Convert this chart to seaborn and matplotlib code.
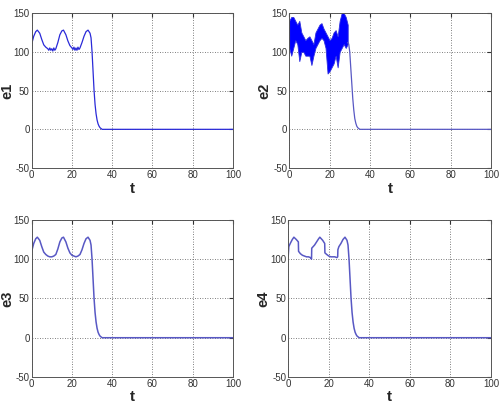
import numpy as np
import pandas as pd
import seaborn as sns
import matplotlib.pyplot as plt

# values
t1 = [0, 1, 2, 2.8, 4, 5, 6, 7, 8, 8.5, 9, 9.5, 10, 10.5, 11, 11.5, 12, 13, 14, 15, 15.8, 17, 18, 19,
      20, 20.5, 21, 21.5, 22, 22.5, 23, 23.5, 24, 25, 26, 27, 28, 29, 29.5, 30, 30.5, 31, 31.5, 32,
      32.5, 33, 33.5, 34, 35, 100]
e1 = [110, 120, 126, 128, 124, 116, 109, 106, 104, 102, 105, 102, 104, 101, 105, 102, 104, 112, 122, 127, 128, 122, 114, 108,
      105, 103, 106, 102, 105, 102, 106, 103, 105, 112, 120, 126, 128, 124, 118, 100, 75, 50, 32, 20,
      12, 7, 4, 2, 0, 0]

t3 = [0, 1, 2, 2.8, 4, 5, 6, 7, 8, 9, 10, 11, 12, 13, 14, 15, 15.8, 17, 18, 19, 20, 21, 22, 23, 24,
      25, 26, 27, 28, 29, 29.5, 30, 30.5, 31, 31.5, 32, 32.5, 33, 33.5, 34, 35, 100]
e3 = [110, 120, 126, 128, 124, 116, 109, 106, 104, 103, 103, 104, 106, 113, 122, 127, 128, 122, 114, 108, 105, 104, 103, 104, 106,
      112, 120, 126, 128, 124, 118, 100, 75, 50, 32, 20, 12, 7, 4, 2, 0, 0]

t4 = [0, 0.3, 1, 2, 2.8, 4, 5, 5.1, 6, 7, 8, 9, 10, 11, 11.5, 11.6, 13, 14, 15, 15.6, 17, 18, 18.1,
      19, 20, 21, 22, 23, 24, 24.4, 24.5, 25, 26, 27, 28, 29, 29.5, 30, 30.5, 31, 31.5, 32, 32.5, 33,
      33.5, 34, 35, 100]
e4 = [104, 116, 120, 125, 128, 125, 122, 110, 107, 105, 104, 103, 103, 102, 100, 114, 118, 122, 126, 128, 124, 120, 108,
      106, 104, 103, 103, 103, 102, 103, 112, 116, 120, 125, 128, 124, 118, 100, 75, 50, 32, 20, 12, 7,
      4, 2, 0, 0]

# e2 is a dense oscillation: upper and lower envelope up to t=29
t2_band = list(range(0, 30))
e2_hi = [140, 145, 145, 140, 135, 140, 125, 120, 115, 118, 120, 115, 110, 125, 130, 135, 137, 130, 125, 120,
         115, 118, 125, 128, 120, 140, 150, 150, 145, 135]
e2_lo = [105, 95, 105, 115, 110, 88, 100, 100, 95, 95, 95, 83, 95, 105, 110, 115, 118, 115, 105, 72,
         75, 80, 85, 95, 80, 100, 105, 110, 105, 110]
t2_tail = [29, 29.5, 30, 30.5, 31, 31.5, 32, 32.5, 33, 33.5, 34, 35, 100]
e2_tail = [112, 110, 100, 80, 60, 40, 25, 14, 8, 4, 2, 0, 0]

line_color = "#2a2ad8"
soft_color = "#5858c4"

sns.set_style("white")
plt.rcParams["font.family"] = ["Liberation Sans", "DejaVu Sans"]
plt.rcParams["axes.unicode_minus"] = False

fig = plt.figure(figsize=(5.03, 4.08), dpi=100)
boxes = [
    [0.063, 0.588, 0.400, 0.380],
    [0.575, 0.588, 0.401, 0.380],
    [0.063, 0.076, 0.400, 0.385],
    [0.573, 0.076, 0.403, 0.385],
]
axes = [fig.add_axes(b) for b in boxes]

sns.lineplot(x=t1, y=e1, ax=axes[0], color=line_color, linewidth=0.9)

axes[1].fill_between(t2_band, e2_lo, e2_hi, color="#0000ff", linewidth=0.6, edgecolor="#3030e0")
sns.lineplot(x=t2_tail, y=e2_tail, ax=axes[1], color=soft_color, linewidth=0.9)

sns.lineplot(x=t3, y=e3, ax=axes[2], color=soft_color, linewidth=1.1)
sns.lineplot(x=t4, y=e4, ax=axes[3], color=soft_color, linewidth=1.1)

for ax, name in zip(axes, ["e1", "e2", "e3", "e4"]):
    ax.set_xlim(0, 100)
    ax.set_ylim(-50, 150)
    ax.set_xticks([0, 20, 40, 60, 80, 100])
    ax.set_yticks([-50, 0, 50, 100, 150])
    ax.grid(True, linestyle=(0, (1, 2)), color="#555555", linewidth=0.6)
    ax.tick_params(direction="in", length=3, labelsize=7, pad=1.5, top=True, right=True,
                   colors="#333333")
    for s in ax.spines.values():
        s.set_color("#555555")
        s.set_linewidth(0.7)
    ax.set_xlabel("t", fontsize=11, fontweight="bold", labelpad=1)
    ax.set_ylabel(name, fontsize=10.5, fontweight="bold")
    ax.yaxis.set_label_coords(-0.088, 0.5)

plt.savefig("out.png", dpi=100)
plt.close()
